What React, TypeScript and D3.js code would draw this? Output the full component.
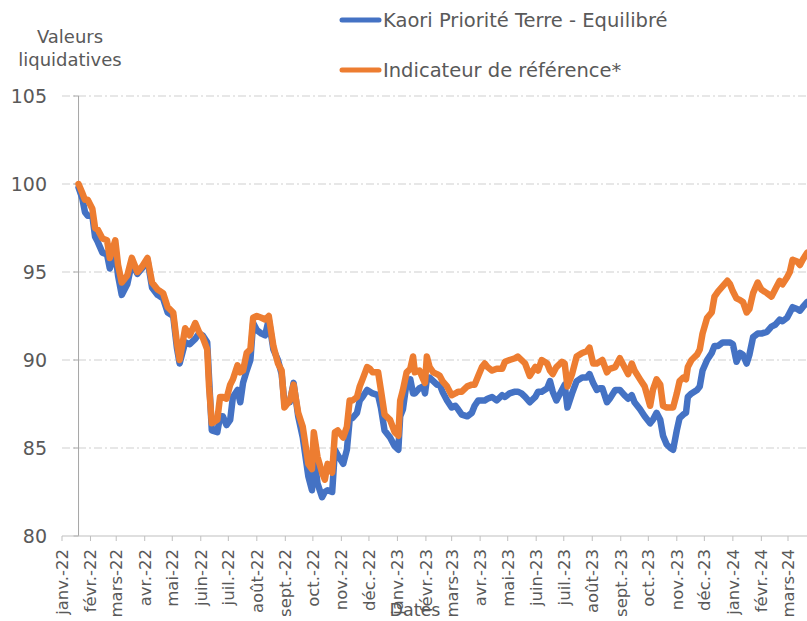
import React from "react";
import * as d3 from "d3";

const seriesNames = ["Kaori Priorité Terre - Equilibré", "Indicateur de référence*"];
const seriesColors = ["#4472C4", "#ED7D31"];

const dateStrings = [
  "2022-01-19","2022-01-23","2022-01-26","2022-01-29","2022-02-03","2022-02-06","2022-02-09","2022-02-14","2022-02-19","2022-02-22",
  "2022-02-28","2022-03-03","2022-03-07","2022-03-13","2022-03-18","2022-03-24","2022-03-29","2022-04-04","2022-04-09","2022-04-15",
  "2022-04-21","2022-04-26","2022-05-02","2022-05-06","2022-05-09","2022-05-15","2022-05-20","2022-05-26","2022-05-30","2022-06-03",
  "2022-06-08","2022-06-10","2022-06-13","2022-06-19","2022-06-22","2022-06-25","2022-06-29","2022-07-03","2022-07-06","2022-07-11",
  "2022-07-14","2022-07-17","2022-07-21","2022-07-25","2022-07-28","2022-08-01","2022-08-06","2022-08-10","2022-08-14","2022-08-19",
  "2022-08-24","2022-08-28","2022-08-31","2022-09-06","2022-09-10","2022-09-15","2022-09-20","2022-09-26","2022-09-30","2022-10-02",
  "2022-10-06","2022-10-11","2022-10-14","2022-10-17","2022-10-22","2022-10-25","2022-10-28","2022-11-03","2022-11-07","2022-11-10",
  "2022-11-13","2022-11-18","2022-11-21","2022-11-24","2022-11-29","2022-12-02","2022-12-05","2022-12-11","2022-12-14","2022-12-18",
  "2022-12-24","2022-12-29","2023-01-02","2023-01-04","2023-01-07","2023-01-11","2023-01-15","2023-01-18","2023-01-20","2023-01-25",
  "2023-01-29","2023-01-31","2023-02-02","2023-02-05","2023-02-09","2023-02-13","2023-02-16","2023-02-19","2023-02-24","2023-03-01",
  "2023-03-05","2023-03-08","2023-03-12","2023-03-18","2023-03-23","2023-03-26","2023-03-30","2023-04-03","2023-04-06","2023-04-09",
  "2023-04-14","2023-04-19","2023-04-25","2023-04-28","2023-05-03","2023-05-09","2023-05-12","2023-05-16","2023-05-20","2023-05-25",
  "2023-05-31","2023-06-03","2023-06-07","2023-06-13","2023-06-16","2023-06-19","2023-06-23","2023-06-29","2023-07-02","2023-07-05",
  "2023-07-10","2023-07-15","2023-07-21","2023-07-26","2023-07-29","2023-08-02","2023-08-06","2023-08-09","2023-08-12","2023-08-17",
  "2023-08-20","2023-08-26","2023-08-31","2023-09-05","2023-09-09","2023-09-13","2023-09-16","2023-09-22","2023-09-27","2023-10-03",
  "2023-10-06","2023-10-10","2023-10-14","2023-10-17","2023-10-21","2023-10-25","2023-10-28","2023-11-01","2023-11-04","2023-11-08",
  "2023-11-11","2023-11-13","2023-11-17","2023-11-23","2023-11-26","2023-11-29","2023-12-04","2023-12-09","2023-12-12","2023-12-16",
  "2023-12-21","2023-12-26","2023-12-29","2024-01-01","2024-01-05","2024-01-09","2024-01-12","2024-01-16","2024-01-19","2024-01-23",
  "2024-01-28","2024-02-01","2024-02-07","2024-02-12","2024-02-16","2024-02-21","2024-02-24","2024-02-29","2024-03-03","2024-03-06",
  "2024-03-11","2024-03-14","2024-03-17","2024-03-22",
];

const fundValues = [
  99.8, 99.2, 98.4, 98.2, 98.2, 97.0, 96.7, 96.1, 96.0, 95.2,
  96.1, 94.8, 93.7, 94.3, 95.5, 94.9, 95.2, 95.7, 94.1, 93.7,
  93.5, 92.7, 92.5, 90.7, 89.8, 91.0, 90.9, 91.2, 91.5, 91.4,
  91.0, 89.0, 86.0, 85.9, 86.8, 86.8, 86.3, 86.6, 87.9, 88.3,
  87.6, 88.7, 89.4, 90.0, 92.1, 91.7, 91.5, 91.4, 92.3, 90.6,
  90.0, 89.2, 87.6, 87.6, 88.7, 86.8, 85.6, 83.4, 82.6, 84.7,
  83.0, 82.2, 82.5, 82.6, 82.5, 84.9, 84.6, 84.1, 84.9, 86.6,
  86.7, 87.0, 87.7, 87.9, 88.3, 88.2, 88.1, 88.0, 87.3, 86.0,
  85.6, 85.1, 84.9, 86.8, 87.2, 88.7, 88.9, 88.1, 88.1, 88.4,
  88.5, 88.1, 88.9, 89.0, 88.8, 88.6, 88.6, 88.2, 87.7, 87.3,
  87.4, 87.2, 86.9, 86.8, 87.0, 87.4, 87.7, 87.7, 87.7, 87.8,
  87.9, 87.7, 88.0, 87.9, 88.1, 88.2, 88.2, 88.1, 87.9, 87.6,
  87.9, 88.2, 88.2, 88.4, 88.8, 88.2, 87.7, 88.3, 88.6, 87.3,
  88.1, 88.8, 89.0, 89.0, 89.2, 88.7, 88.3, 88.4, 88.4, 87.6,
  87.8, 88.3, 88.3, 88.0, 87.8, 88.0, 87.6, 87.2, 86.8, 86.4,
  86.6, 87.0, 86.6, 85.7, 85.2, 85.0, 84.9, 86.0, 86.7, 86.9,
  87.0, 87.9, 88.1, 88.3, 88.5, 89.4, 90.0, 90.4, 90.8, 90.8,
  91.0, 91.0, 91.0, 90.9, 89.9, 90.4, 90.3, 89.8, 90.3, 91.3,
  91.5, 91.5, 91.6, 91.9, 92.0, 92.3, 92.2, 92.4, 92.7, 93.0,
  92.9, 92.8, 93.0, 93.3,
];

const benchmarkValues = [
  100.0, 99.5, 99.1, 99.1, 98.6, 97.5, 97.4, 96.9, 96.8, 95.8,
  96.8, 95.4, 94.4, 94.8, 95.8, 95.0, 95.3, 95.8, 94.4, 94.0,
  93.8, 93.0, 92.7, 91.0, 90.0, 91.8, 91.4, 92.1, 91.6, 91.3,
  90.6, 88.5, 86.4, 86.6, 87.9, 87.9, 87.8, 88.6, 88.9, 89.7,
  89.3, 89.4, 90.4, 90.6, 92.4, 92.5, 92.4, 92.3, 92.5, 90.8,
  89.8, 89.4, 87.3, 87.7, 88.6, 87.0, 86.2, 84.1, 83.8, 85.9,
  84.5, 83.6, 83.2, 84.1, 83.6, 85.9, 86.0, 85.6, 86.2, 87.7,
  87.7, 87.9, 88.5, 88.9, 89.6, 89.5, 89.3, 89.3, 88.3, 86.9,
  86.6, 85.9, 85.7, 87.7, 88.3, 89.3, 89.5, 90.2, 89.3, 89.4,
  88.9, 88.7, 90.2, 89.6, 89.3, 89.2, 89.1, 88.8, 88.5, 88.0,
  88.1, 88.2, 88.2, 88.5, 88.6, 88.6, 89.1, 89.6, 89.8, 89.6,
  89.4, 89.5, 89.5, 89.9, 90.0, 90.1, 90.2, 90.0, 89.8, 89.1,
  89.6, 89.4, 90.0, 89.8, 89.4, 89.2, 89.6, 89.9, 89.8, 88.5,
  89.2, 90.2, 90.4, 90.5, 90.7, 89.8, 89.8, 89.9, 90.0, 89.3,
  89.5, 89.6, 90.1, 89.6, 89.2, 89.8, 89.4, 88.9, 88.5, 87.4,
  88.3, 88.9, 88.6, 87.4, 87.3, 87.3, 87.3, 88.1, 88.8, 89.0,
  88.9, 89.6, 90.0, 90.3, 90.6, 91.5, 92.4, 92.7, 93.6, 93.9,
  94.2, 94.5, 94.3, 93.9, 93.5, 93.4, 93.3, 92.7, 92.9, 93.8,
  94.4, 94.0, 93.8, 93.6, 94.0, 94.5, 94.3, 94.7, 95.0, 95.7,
  95.6, 95.4, 95.7, 96.1,
];

const yTickValues = [80, 85, 90, 95, 100, 105];
const monthLabels = [
  "janv.-22","févr.-22","mars-22","avr.-22","mai-22","juin-22","juil.-22","août-22","sept.-22","oct.-22","nov.-22","déc.-22",
  "janv.-23","févr.-23","mars-23","avr.-23","mai-23","juin-23","juil.-23","août-23","sept.-23","oct.-23","nov.-23","déc.-23",
  "janv.-24","févr.-24","mars-24",
];
const yTitleLines = ["Valeurs", "liquidatives"];
const xTitle = "Dates";

const FONT = "'DejaVu Sans', 'Open Sans', sans-serif";
const TEXT = "#595959";

export default function App() {
  const W = 807;
  const H = 621;
  const parse = d3.timeParse("%Y-%m-%d");
  const dates = dateStrings.map((s) => parse(s) as Date);

  const x = d3.scaleTime().domain([new Date(2022, 0, 1), new Date(2024, 2, 1)]).range([62, 788]);
  const y = d3.scaleLinear().domain([80, 105]).range([536, 96]);

  const monthTicks = d3.timeMonth.range(new Date(2022, 0, 1), new Date(2024, 2, 2));

  const line = d3
    .line<number>()
    .x((_, i) => x(dates[i]))
    .y((v) => y(v))
    .curve(d3.curveLinear);

  const yAxisX = x(dates[0]);
  const plotLeft = 62;
  const plotRight = W;

  return (
    <svg
      width={W}
      height={H}
      viewBox={`0 0 ${W} ${H}`}
      style={{ position: "absolute", left: 0, top: 0, display: "block", background: "#fff" }}
      fontFamily={FONT}
    >
      <rect x={0} y={0} width={W} height={H} fill="#fff" />

      {yTickValues
        .filter((v) => v !== 80)
        .map((v) => (
          <line
            key={"g" + v}
            x1={plotLeft}
            x2={plotRight}
            y1={y(v)}
            y2={y(v)}
            stroke="#cfcfcf"
            strokeWidth={1}
            strokeDasharray="8 3 2 3"
          />
        ))}

      <line x1={yAxisX} x2={yAxisX} y1={y(105)} y2={y(80)} stroke="#a6a6a6" strokeWidth={1} />
      {yTickValues.map((v) => (
        <line key={"yt" + v} x1={yAxisX - 5} x2={yAxisX} y1={y(v)} y2={y(v)} stroke="#a6a6a6" strokeWidth={1} />
      ))}
      {yTickValues.map((v) => (
        <text key={"yl" + v} x={47} y={y(v)} dy="0.36em" textAnchor="end" fontSize={19} fill={TEXT}>
          {v}
        </text>
      ))}

      <line x1={plotLeft} x2={plotRight} y1={y(80)} y2={y(80)} stroke="#bfbfbf" strokeWidth={1} />
      {monthTicks.map((d, i) => (
        <line key={"xt" + i} x1={x(d)} x2={x(d)} y1={y(80)} y2={y(80) + 5} stroke="#bfbfbf" strokeWidth={1} />
      ))}
      {monthTicks.map((d, i) => (
        <text
          key={"xl" + i}
          transform={`translate(${x(d)},${549}) rotate(-90)`}
          textAnchor="end"
          dy="0.36em"
          fontSize={16.5}
          fill={TEXT}
        >
          {monthLabels[i]}
        </text>
      ))}

      <path d={line(fundValues) || ""} fill="none" stroke={seriesColors[0]} strokeWidth={6.5} strokeLinejoin="round" strokeLinecap="round" />
      <path d={line(benchmarkValues) || ""} fill="none" stroke={seriesColors[1]} strokeWidth={6.5} strokeLinejoin="round" strokeLinecap="round" />

      {seriesNames.map((name, i) => (
        <g key={"lg" + i}>
          <line x1={342} x2={379} y1={20 + i * 50} y2={20 + i * 50} stroke={seriesColors[i]} strokeWidth={5} strokeLinecap="round" />
          <text x={383} y={20 + i * 50} dy="0.36em" fontSize={19.5} fill={TEXT}>
            {name}
          </text>
        </g>
      ))}

      {yTitleLines.map((t, i) => (
        <text key={"ytl" + i} x={70} y={37 + i * 23} dy="0.36em" textAnchor="middle" fontSize={18} fill={TEXT}>
          {t}
        </text>
      ))}
      <text x={415} y={616} textAnchor="middle" fontSize={17.5} fill={TEXT}>
        {xTitle}
      </text>
    </svg>
  );
}
